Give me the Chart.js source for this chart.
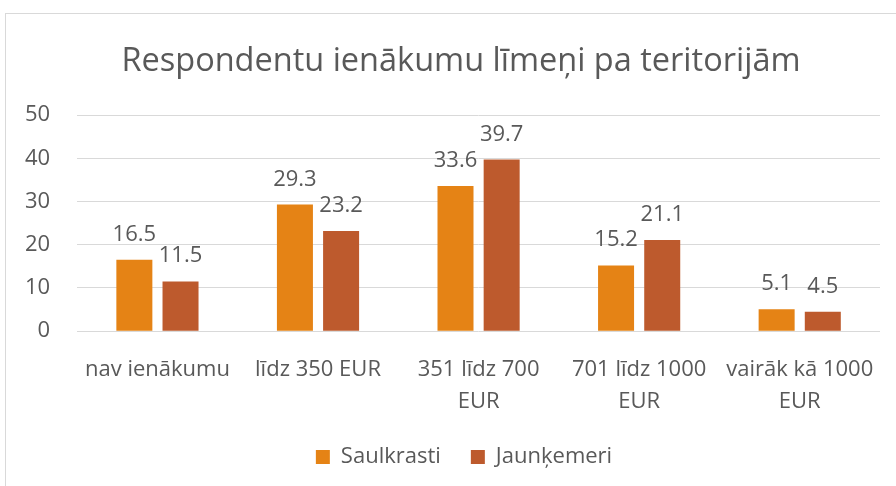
<!DOCTYPE html>
<html>
<head>
<meta charset="utf-8">
<script src="https://cdn.jsdelivr.net/npm/chart.js@4"></script>
<style>
  html, body { margin: 0; padding: 0; background: #fff; overflow: hidden; }
  #wrap { position: relative; width: 896px; height: 486px; }
  #frame { position: absolute; left: 5px; top: 13px; width: 1000px; height: 600px;
           border-left: 1px solid #d9d9d9; border-top: 1px solid #d9d9d9; }
  canvas { position: absolute; left: 0; top: 0; }
</style>
</head>
<body>
<div id="wrap">
  <div id="frame"></div>
  <canvas id="ienakumiChart" width="896" height="486"></canvas>
</div>
<script>
// Dati
const kategorijas = [
    'nav ienākumu',
    'līdz 350 EUR',
    ['351 līdz 700', 'EUR'],
    ['701 līdz 1000', 'EUR'],
    ['vairāk kā 1000', 'EUR']
];
const saulkrasti = [16.5, 29.3, 33.6, 15.2, 5.1];
const jaunkemeri = [11.5, 23.2, 39.7, 21.1, 4.5];
const yTicks = [0, 10, 20, 30, 40, 50];

const teksts = '#595959';
const fonts = '"Open Sans", Lato, sans-serif';

// Oriģinālais rāmis ir platāks par attēlu, tāpēc virsraksts un leģenda ir nobīdīti pa labi
const virsrakstaCentrs = 461;
const legendasCentrs = 464;

const centraNobide = {
    id: 'centraNobide',
    afterLayout(chart) {
        const move = (box, cx) => {
            const dx = cx - (box.left + box.right) / 2;
            box.left += dx;
            box.right += dx;
        };
        if (chart.titleBlock) move(chart.titleBlock, virsrakstaCentrs);
        if (chart.legend) move(chart.legend, legendasCentrs);
    }
};

// Vērtību uzraksti virs stabiņiem
const vertibuUzraksti = {
    id: 'vertibuUzraksti',
    afterDatasetsDraw(chart) {
        const ctx = chart.ctx;
        ctx.save();
        ctx.font = '22px ' + fonts;
        ctx.fillStyle = teksts;
        ctx.textAlign = 'center';
        ctx.textBaseline = 'alphabetic';
        chart.data.datasets.forEach((ds, i) => {
            chart.getDatasetMeta(i).data.forEach((bar, j) => {
                ctx.fillText(ds.data[j].toFixed(1), bar.x, bar.y - 19);
            });
        });
        ctx.restore();
    }
};

new Chart(document.getElementById('ienakumiChart'), {
    type: 'bar',
    data: {
        labels: kategorijas,
        datasets: [
            {
                label: 'Saulkrasti',
                data: saulkrasti,
                backgroundColor: '#e58315'
            },
            {
                label: 'Jaunķemeri',
                data: jaunkemeri,
                backgroundColor: '#bd5a2d'
            }
        ]
    },
    options: {
        responsive: false,
        animation: false,
        categoryPercentage: 0.575,
        barPercentage: 0.78,
        layout: { padding: { left: -2, right: 16, top: 32, bottom: 8 } },
        plugins: {
            title: {
                display: true,
                text: 'Respondentu ienākumu līmeņi pa teritorijām',
                color: teksts,
                font: { family: fonts, size: 32.5, weight: 'normal' },
                padding: { top: 10, bottom: 34 }
            },
            legend: {
                position: 'bottom',
                labels: {
                    color: teksts,
                    font: { family: fonts, size: 22 },
                    boxWidth: 14,
                    boxHeight: 14,
                    padding: 30
                }
            },
            tooltip: { enabled: false }
        },
        scales: {
            x: {
                grid: { display: false },
                border: { display: false },
                afterFit: scale => { scale.height -= 17; },
                ticks: {
                    color: teksts,
                    font: { family: fonts, size: 22, lineHeight: 1.45 },
                    maxRotation: 0,
                    autoSkip: false,
                    padding: 15
                }
            },
            y: {
                min: 0,
                max: 50,
                afterBuildTicks: axis => { axis.ticks = yTicks.map(v => ({ value: v })); },
                grid: { color: '#d9d9d9', lineWidth: 1, drawTicks: false },
                border: { display: false },
                ticks: {
                    color: teksts,
                    font: { family: fonts, size: 22 },
                    padding: 27
                }
            }
        }
    },
    plugins: [centraNobide, vertibuUzraksti]
});
</script>
</body>
</html>
